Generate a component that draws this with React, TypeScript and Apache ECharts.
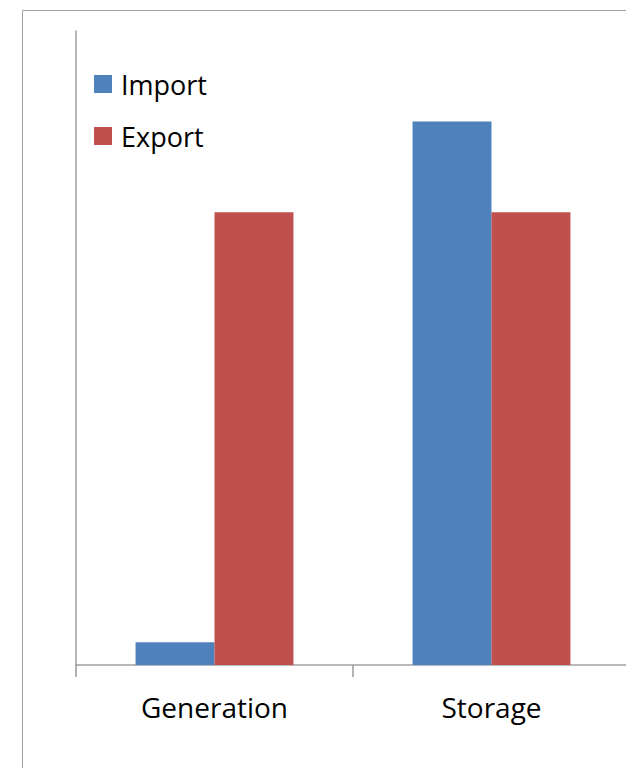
import React, { useEffect, useRef } from "react";
import * as echarts from "echarts";

const categories = ["Generation", "Storage"];
const importValues = [0.25, 6];
const exportValues = [5, 5];
const yMax = 7;

export default function App() {
  const ref = useRef<HTMLDivElement>(null);
  useEffect(() => {
    if (!ref.current) return;
    const chart = echarts.init(ref.current, null, { renderer: "svg" });
    chart.setOption({
      animation: false,
      backgroundColor: "#ffffff",
      graphic: [
        {
          type: "rect",
          shape: { x: 22.5, y: 10.5, width: 700, height: 800 },
          style: { fill: "none", stroke: "#a0a0a0", lineWidth: 1 },
          silent: true,
          z: -1,
        },
      ],
      legend: {
        orient: "vertical",
        left: 94,
        top: 66,
        padding: 0,
        itemWidth: 18,
        itemHeight: 18,
        itemGap: 16,
        icon: "rect",
        data: ["Import", "Export"],
        textStyle: {
          fontFamily: "'Open Sans', sans-serif",
          fontSize: 27,
          lineHeight: 36,
          color: "#000000",
          padding: [0, 0, 0, 4],
        },
      },
      grid: { left: 76, top: 31, right: 20, height: 634, containLabel: false },
      xAxis: {
        type: "category",
        data: categories,
        axisLine: { lineStyle: { color: "#a0a0a0", width: 1.5 } },
        axisTick: { show: true, length: 12, lineStyle: { color: "#999999", width: 1.5 } },
        axisLabel: {
          fontFamily: "'Open Sans', sans-serif",
          fontSize: 28,
          color: "#000000",
          margin: 28,
        },
      },
      yAxis: {
        type: "value",
        min: 0,
        max: yMax,
        axisLine: { show: true, lineStyle: { color: "#a0a0a0", width: 1.5 } },
        axisTick: { show: false },
        axisLabel: { show: false },
        splitLine: { show: false },
      },
      series: [
        {
          name: "Import",
          type: "bar",
          data: importValues,
          itemStyle: { color: "#4F81BD" },
          barGap: "0%",
          barCategoryGap: "43%",
        },
        {
          name: "Export",
          type: "bar",
          data: exportValues,
          itemStyle: { color: "#C0504D" },
          barGap: "0%",
          barCategoryGap: "43%",
        },
      ],
    });
    return () => chart.dispose();
  }, []);
  return (
    <div
      style={{
        position: "absolute",
        left: 0,
        top: 0,
        width: 626,
        height: 768,
        overflow: "hidden",
        background: "#ffffff",
      }}
    >
      <div ref={ref} style={{ width: 650, height: 768 }} />
    </div>
  );
}
